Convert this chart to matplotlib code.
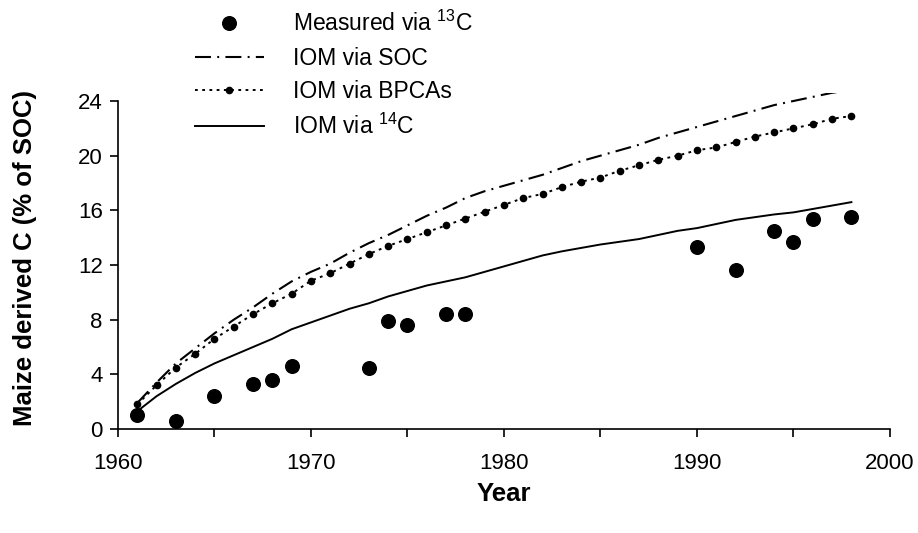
import numpy as np
import matplotlib
matplotlib.use("Agg")
import matplotlib.pyplot as plt
from matplotlib.ticker import MultipleLocator

plt.rcParams['font.family'] = ['Liberation Sans', 'DejaVu Sans']
plt.rcParams['mathtext.fontset'] = 'custom'
plt.rcParams['mathtext.rm'] = 'Liberation Sans'
plt.rcParams['lines.scale_dashes'] = False

# modelled curves, one value per year
years = np.arange(1961, 1999)
iom_soc = [1.9, 3.4, 4.8, 5.9, 7.0, 8.0, 8.9, 9.9, 10.8, 11.5,
           12.1, 12.9, 13.6, 14.2, 14.9, 15.6, 16.2, 16.9, 17.4, 17.8,
           18.2, 18.6, 19.1, 19.6, 20.0, 20.4, 20.8, 21.3, 21.7, 22.1,
           22.5, 22.9, 23.3, 23.7, 24.0, 24.3, 24.6, 24.8]
iom_bpca = [1.8, 3.2, 4.5, 5.5, 6.6, 7.5, 8.4, 9.2, 9.9, 10.85,
            11.4, 12.1, 12.8, 13.4, 13.9, 14.4, 14.9, 15.4, 15.9, 16.4,
            16.9, 17.2, 17.7, 18.1, 18.4, 18.9, 19.3, 19.7, 20.0, 20.4,
            20.6, 21.0, 21.4, 21.7, 22.0, 22.3, 22.7, 22.9]
iom_c14 = [1.3, 2.4, 3.3, 4.1, 4.8, 5.4, 6.0, 6.6, 7.3, 7.8,
           8.3, 8.8, 9.2, 9.7, 10.1, 10.5, 10.8, 11.1, 11.5, 11.9,
           12.3, 12.7, 13.0, 13.25, 13.5, 13.7, 13.9, 14.2, 14.5, 14.7,
           15.0, 15.3, 15.5, 15.7, 15.85, 16.1, 16.35, 16.6]

# measured via 13C
meas_years = [1961, 1963, 1965, 1967, 1968, 1969, 1973, 1974, 1975, 1977,
              1978, 1990, 1992, 1994, 1995, 1996, 1998]
meas_vals = [1.0, 0.6, 2.4, 3.3, 3.6, 4.6, 4.5, 7.9, 7.6, 8.4,
             8.4, 13.3, 11.6, 14.5, 13.7, 15.4, 15.5]

fig = plt.figure(figsize=(9.18, 5.33), dpi=100)
ax = fig.add_axes([0.1285, 0.1951, 0.841, 0.6308])

h_meas, = ax.plot(meas_years, meas_vals, 'o', color='black', ms=9.8, zorder=5)
h_soc, = ax.plot(years, iom_soc, color='black', lw=1.5,
                 linestyle=(0, (11.5, 4.5, 1.4, 4.5)))
h_bpca, = ax.plot(years, iom_bpca, color='black', lw=1.4,
                  linestyle=(0, (2.0, 3.2)), marker='o', ms=4.5)
h_c14, = ax.plot(years, iom_c14, color='black', lw=1.4)

ax.set_xlim(1960, 2000)
ax.set_ylim(0, 24.6)
ax.xaxis.set_major_locator(MultipleLocator(10))
ax.xaxis.set_minor_locator(MultipleLocator(5))
ax.set_yticks(np.arange(0, 25, 4))
ax.tick_params(which='both', direction='out', length=6, width=1.2, labelsize=16)
ax.tick_params(axis='x', pad=11)
ax.tick_params(axis='y', pad=5)

for s in ['top', 'right']:
    ax.spines[s].set_visible(False)
for s in ['left', 'bottom']:
    ax.spines[s].set_linewidth(1.2)
ax.spines['left'].set_bounds(0, 24)

fig.text(504 / 918, 1 - 494 / 533, 'Year', ha='center', va='center',
         fontsize=18.5, fontweight='bold')
fig.text(25.5 / 918, 1 - 258 / 533, 'Maize derived C (% of SOC)', ha='center',
         va='center', rotation=90, fontsize=18.5, fontweight='bold')

fig.legend([h_meas, h_soc, h_bpca, h_c14],
           ['Measured via $^{13}$C', 'IOM via SOC', 'IOM via BPCAs', 'IOM via $^{14}$C'],
           loc='upper left', bbox_to_anchor=(195 / 918, 1 - 11 / 533),
           bbox_transform=fig.transFigure, frameon=False, borderpad=0,
           borderaxespad=0, handlelength=3.0, handletextpad=1.27,
           labelspacing=0.46, fontsize=16.5, numpoints=1)

fig.savefig('out.png', dpi=100)
